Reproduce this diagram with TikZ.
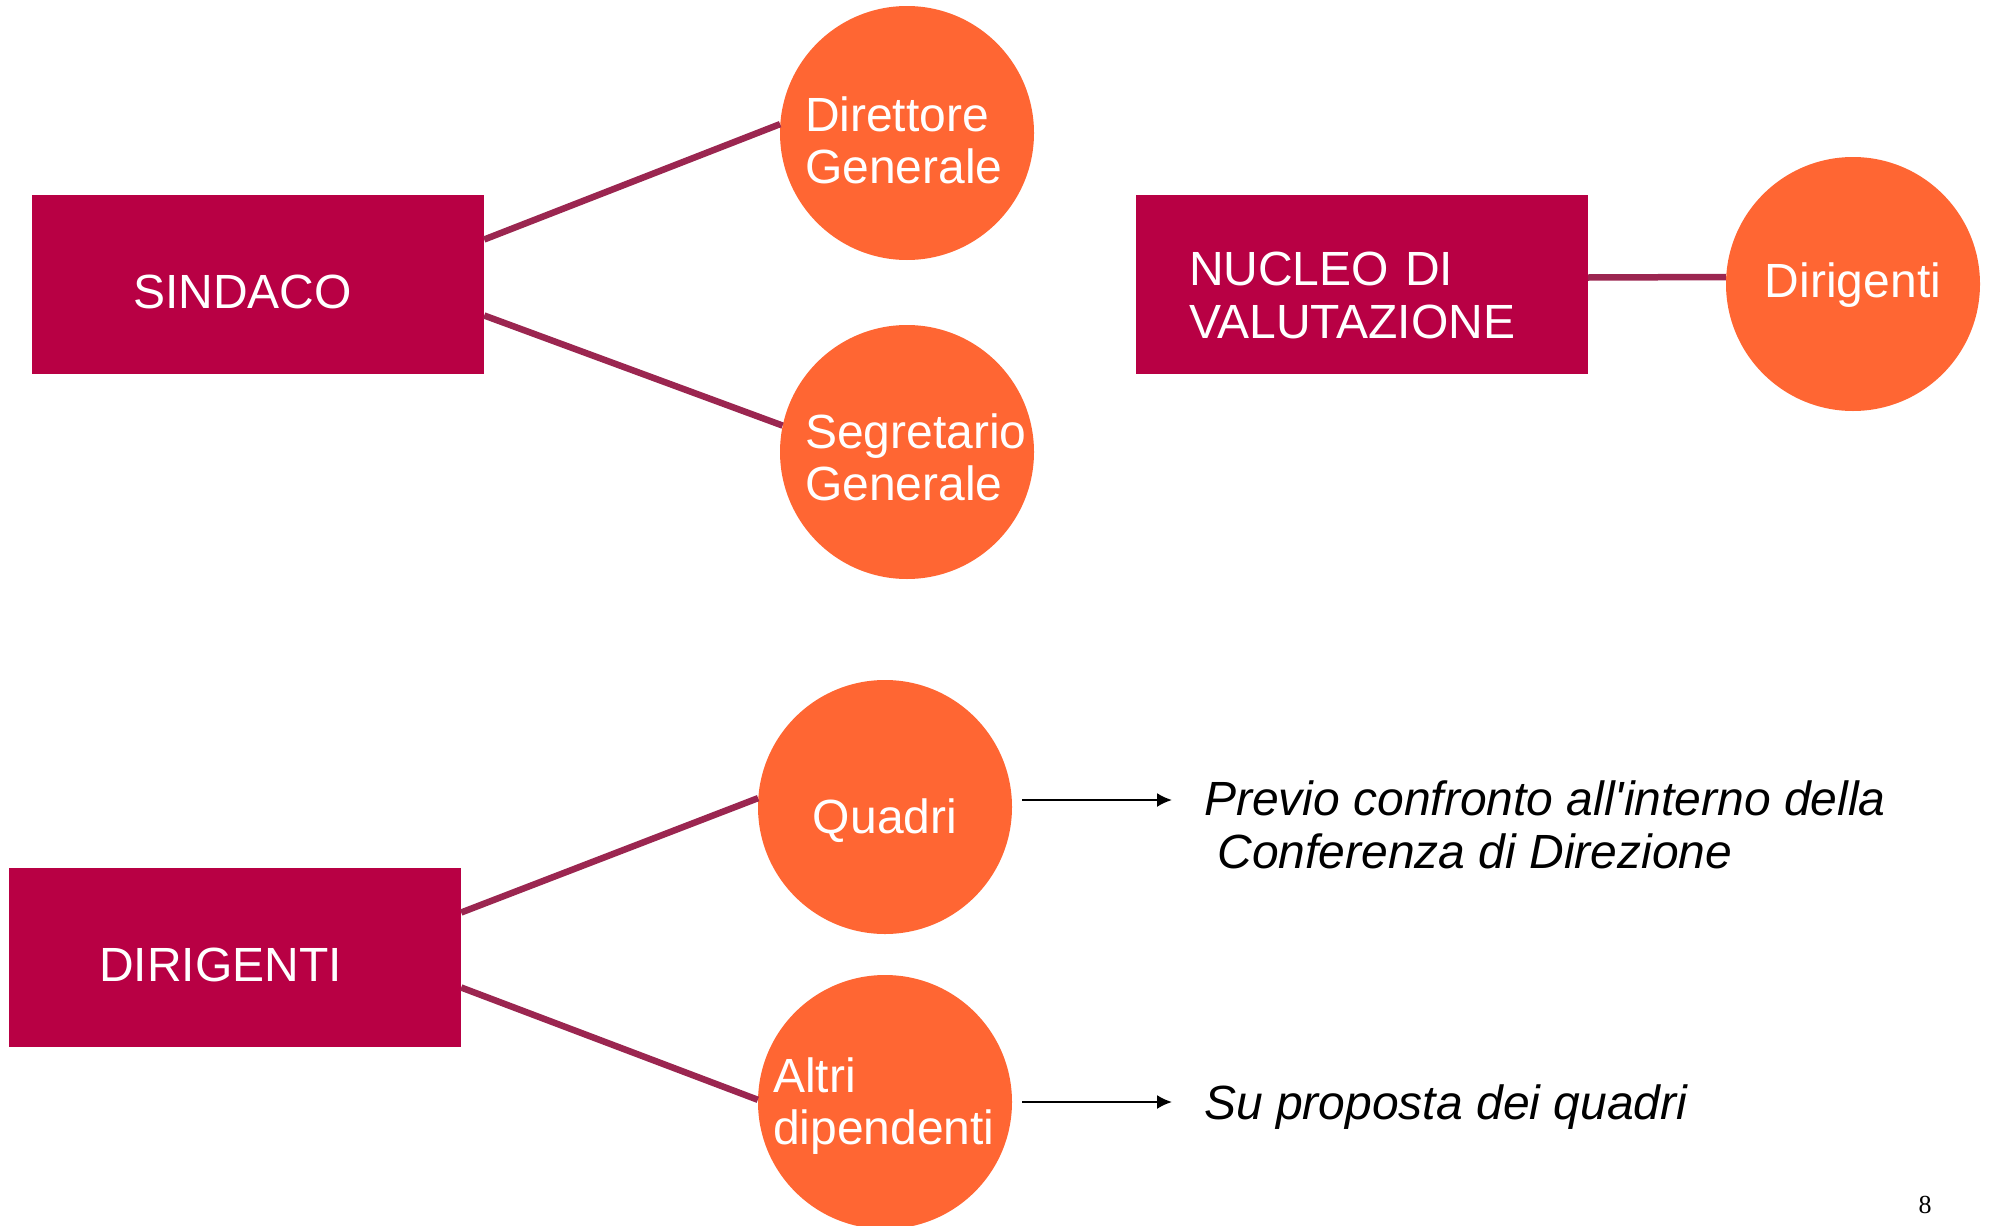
\documentclass[tikz,border=0pt]{standalone}
\usepackage{fontspec}
\setmainfont{Liberation Sans}
\newfontfamily\numfont{Liberation Serif}
\usetikzlibrary{arrows.meta}

\definecolor{boxred}{RGB}{184,0,68}
\definecolor{enteorange}{RGB}{255,102,51}
\definecolor{linkred}{RGB}{155,38,80}

\begin{document}
\begin{tikzpicture}[x=1pt,y=-1pt,node distance=319pt,
  box/.style={rectangle,fill=boxred,text=white,minimum width=452pt,minimum height=179pt,inner sep=0pt,align=left,text depth=0pt,font=\fontsize{48}{53}\selectfont},
  ente/.style={circle,fill=enteorange,text=white,minimum size=254pt,inner sep=0pt,align=left,font=\fontsize{48}{52}\selectfont},
  link/.style={draw=linkred,line width=6.5pt},
  freccia/.style={draw=black,line width=2pt,-{Latex[length=15pt,width=14pt]},shorten >=32pt},
  nota/.style={inner sep=0pt,align=left,font=\fontsize{48}{53}\selectfont\itshape}]

\useasboundingbox (0,0) rectangle (1990,1226);

\node[box,text width=250pt,text height=47pt](sindaco) at (258,284.5){SINDACO};
\node[ente,text width=204pt,text height=0pt,text depth=3pt](dg) at (907,133){Direttore\\Generale};
\node[ente,text width=204pt,text height=0pt,text depth=7pt](sg)[below of=dg]{Segretario\\Generale};
\node[box,text width=346pt,text height=1pt](nv) at (1362,284.5){NUCLEO DI\\VALUTAZIONE};
\node[ente,text height=27pt,text depth=0pt](dir) at (1853,284){Dirigenti};
\node[box,text width=272pt,text height=48pt](dirig) at (235,957.5){DIRIGENTI};
\node[ente,text height=52pt,text depth=0pt](quadri) at (885,807){Quadri};
\node[ente,text width=224pt,text height=0pt,text depth=20pt](altri)[below of=quadri,yshift=24pt]{Altri\\dipendenti};

\node[nota,anchor=west](n1) at (1204,825){Previo confronto all\textquotesingle interno della\\\hspace*{.278em}Conferenza di Direzione};
\node[nota,anchor=base west](n2) at (1204,1119){Su proposta dei quadri};
\node[font=\numfont\fontsize{26}{30}\selectfont,inner sep=0pt,anchor=base](pag) at (1925,1213){8};

\path[link]([yshift=45pt]sindaco.east) edge (dg.176)
	([yshift=-31pt]sindaco.east) edge (sg.168)
	([yshift=7pt]nv.east) edge ([yshift=7pt]dir.west)
	([yshift=45pt]dirig.east) edge (quadri.176)
	([yshift=-30pt]dirig.east) edge (altri.179);

\draw[freccia]([xshift=10pt,yshift=7pt]quadri.east) coordinate (q1) -- (q1 -| n1.west);
\draw[freccia]([xshift=10pt]altri.east) coordinate (a1) -- (a1 -| n2.west);

\end{tikzpicture}
\end{document}
